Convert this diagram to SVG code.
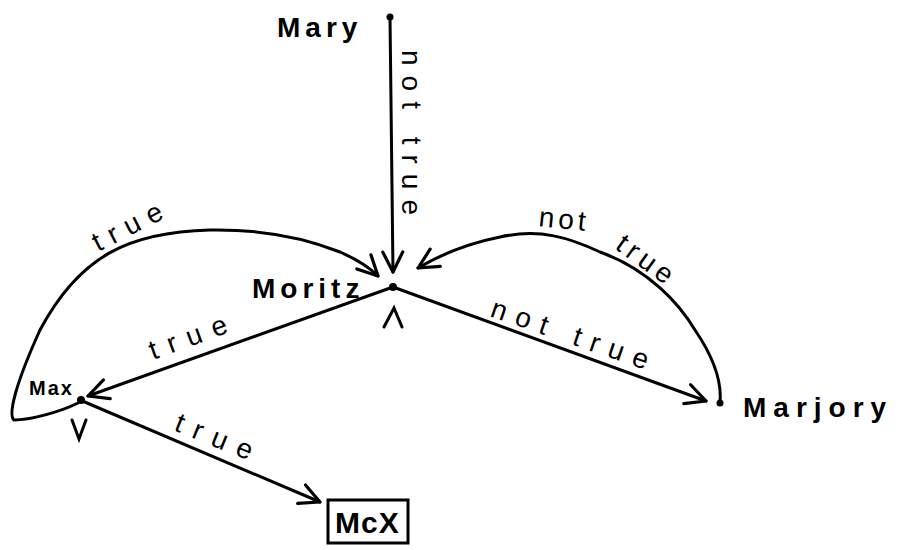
<svg xmlns="http://www.w3.org/2000/svg" width="898" height="550" viewBox="0 0 898 550">
<defs>
<style>
.edge{fill:none;stroke:#000;stroke-width:3;stroke-linecap:round}
.lbl{font-family:"Liberation Sans",sans-serif;font-size:28px;fill:#000;letter-spacing:10px}
.name{font-family:"Liberation Sans",sans-serif;font-weight:bold;font-size:28px;fill:#000;letter-spacing:5px}
.dot{fill:#000}
</style>
<marker id="arr" viewBox="0 0 12 12" refX="11" refY="6" markerWidth="8" markerHeight="8" orient="auto" markerUnits="strokeWidth">
<path d="M1,1 L11,6 L1,11" fill="none" stroke="#000" stroke-width="1.6" stroke-linecap="round" stroke-linejoin="round"/>
</marker>
</defs>
<rect width="898" height="550" fill="#fff"/>
<g id="connectors">
<path class="edge" d="M390,17 L393,272" marker-end="url(#arr)"/>
<path class="edge" d="M393,287 L88,396" marker-end="url(#arr)"/>
<path class="edge" d="M393,287 L706,401" marker-end="url(#arr)"/>
<path class="edge" d="M80,400 L320,502" marker-end="url(#arr)"/>
<path class="edge" d="M78,403 C60,412 30,420 14,420 C8,415 15,385 40,330 C80,255 130,232 210,230 C270,229 310,240 340,252 C356,259 368,266 378,276" marker-end="url(#arr)"/>
<path class="edge" d="M720,402 C722,380 712,355 695,330 C680,305 650,270 600,252 C570,238 540,228 500,237 C470,243 440,255 418,268" marker-end="url(#arr)"/>
<text class="lbl" transform="translate(402,50) rotate(90)">not true</text>
<text class="lbl" transform="translate(98,252) rotate(-27)" style="letter-spacing:9px">true</text>
<text class="lbl" transform="translate(153,360) rotate(-20)" style="letter-spacing:11px">true</text>
<text class="lbl" transform="translate(489,316) rotate(19)">not true</text>
<text class="lbl" transform="translate(173,430) rotate(22)" style="letter-spacing:11px">true</text>
<text class="lbl" transform="translate(538,226) rotate(6)" style="letter-spacing:4px">not</text>
<text class="lbl" transform="translate(614,248) rotate(36)" style="letter-spacing:5px">true</text>
</g>
<g id="Mary">
<circle class="dot" cx="390" cy="17" r="3.5"/>
<text class="name" x="277" y="37">Mary</text>
</g>
<g id="Moritz">
<circle class="dot" cx="393" cy="287" r="4"/>
<text class="name" x="252" y="298">Moritz</text>
<path class="edge" d="M384,327 L394,308 L402,327"/>
</g>
<g id="Max">
<circle class="dot" cx="81" cy="400" r="4"/>
<text class="name" x="29" y="395" style="font-size:20px;letter-spacing:2px">Max</text>
<path class="edge" d="M72,420 L79,439 L86,420"/>
</g>
<g id="Marjory">
<circle class="dot" cx="720" cy="403" r="3.5"/>
<text class="name" x="743" y="417" style="letter-spacing:7px">Marjory</text>
</g>
<g id="McX">
<rect x="328" y="500" width="80" height="43" fill="none" stroke="#000" stroke-width="3"/>
<text class="name" x="335" y="533" style="font-size:30px;letter-spacing:1px">McX</text>
</g>
</svg>
